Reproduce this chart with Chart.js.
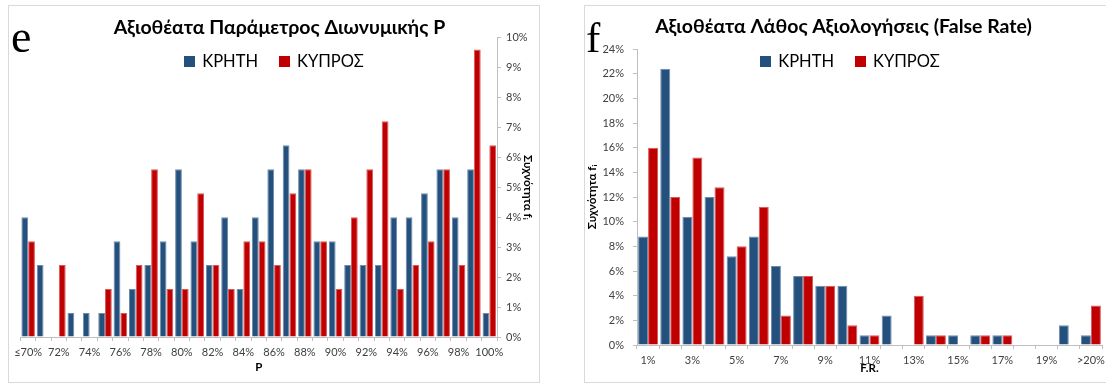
<!DOCTYPE html>
<html>
<head>
<meta charset="utf-8">
<script src="https://cdn.jsdelivr.net/npm/chart.js@4.4.0/dist/chart.umd.min.js"></script>
<style>
  html, body { margin: 0; padding: 0; background: #fff; width: 1106px; height: 383px; overflow: hidden; }
  .panel { position: absolute; top: 5px; width: 532px; height: 378px; box-sizing: border-box; border: 1px solid #d9d9d9; background: #fff; }
  #panelE { left: 8px; }
  #panelF { left: 584px; }
  .panel canvas { position: absolute; left: 0; top: 0; }
  .tag { position: absolute; font-family: "Liberation Serif", "DejaVu Serif", serif; line-height: 1; color: #000; }
  .legend { position: absolute; left: 0; top: 45px; width: 100%; text-align: center; white-space: nowrap;
            font-family: Lato, "Open Sans", sans-serif; font-size: 16.5px; line-height: 20px; color: #000; }
  .legend .item { display: inline-block; }
  .legend i { display: inline-block; width: 11px; height: 11px; margin-right: 7px; vertical-align: baseline; }
</style>
</head>
<body>
<div class="panel" id="panelE">
  <canvas id="chartE" width="530" height="376"></canvas>
  <div class="legend" id="legendE"></div>
</div>
<div class="panel" id="panelF">
  <canvas id="chartF" width="530" height="376"></canvas>
  <div class="legend" id="legendF"></div>
</div>
<div class="tag" style="left:11px;top:14px;font-size:46px;">e</div>
<div class="tag" style="left:586px;top:16px;font-size:43px;">f</div>

<script>
// Series names
const CRETE = 'ΚΡΗΤΗ';
const CYPRUS = 'ΚΥΠΡΟΣ';

// Panel e: binomial parameter P, relative frequency in %
const pCategories = ['≤70%', '71%', '72%', '73%', '74%', '75%', '76%', '77%', '78%', '79%', '80%',
  '81%', '82%', '83%', '84%', '85%', '86%', '87%', '88%', '89%', '90%',
  '91%', '92%', '93%', '94%', '95%', '96%', '97%', '98%', '99%', '100%'];
const pCrete  = [4.0, 2.4, 0, 0.8, 0.8, 0.8, 3.2, 1.6, 2.4, 3.2, 5.6, 3.2, 2.4, 4.0, 1.6, 4.0,
  5.6, 6.4, 5.6, 3.2, 3.2, 2.4, 2.4, 2.4, 4.0, 4.0, 4.8, 5.6, 4.0, 5.6, 0.8];
const pCyprus = [3.2, 0, 2.4, 0, 0, 1.6, 0.8, 2.4, 5.6, 1.6, 1.6, 4.8, 2.4, 1.6, 3.2, 3.2,
  2.4, 4.8, 5.6, 3.2, 1.6, 4.0, 5.6, 7.2, 1.6, 2.4, 3.2, 5.6, 2.4, 9.6, 6.4];

// Panel f: false rate, relative frequency in %
const frCategories = ['1%', '2%', '3%', '4%', '5%', '6%', '7%', '8%', '9%', '10%',
  '11%', '12%', '13%', '14%', '15%', '16%', '17%', '18%', '19%', '20%', '>20%'];
const frCrete  = [8.8, 22.4, 10.4, 12.0, 7.2, 8.8, 6.4, 5.6, 4.8, 4.8, 0.8, 2.4, 0, 0.8, 0.8, 0.8, 0.8, 0, 0, 1.6, 0.8];
const frCyprus = [16.0, 12.0, 15.2, 12.8, 8.0, 11.2, 2.4, 5.6, 4.8, 1.6, 0.8, 0, 4.0, 0.8, 0, 0.8, 0.8, 0, 0, 0, 3.2];

const BLUE = '#23507c', BLUE_EDGE = '#6f8cab';
const RED = '#c00000', RED_EDGE = '#d65a5a';
const AXIS = '#bfbfbf';
const TICK = '#404040';
const FONT = 'Lato, "Open Sans", "DejaVu Sans", sans-serif';

function buildChart(canvasId, legendId, c) {
  const chart = new Chart(document.getElementById(canvasId), {
    type: 'bar',
    data: {
      labels: c.labels,
      datasets: [
        { label: CRETE, data: c.crete, backgroundColor: BLUE, borderColor: BLUE_EDGE, borderWidth: 1 },
        { label: CYPRUS, data: c.cyprus, backgroundColor: RED, borderColor: RED_EDGE, borderWidth: 1 }
      ]
    },
    options: {
      responsive: false,
      animation: false,
      layout: { padding: c.padding },
      datasets: { bar: { categoryPercentage: c.catPct, barPercentage: 1 } },
      plugins: {
        legend: { display: false },
        tooltip: { enabled: false },
        title: {
          display: true, text: c.title, color: '#000',
          font: { family: FONT, size: 19.5, weight: 'bold', lineHeight: 1 },
          padding: c.titlePad
        }
      },
      scales: {
        x: {
          offset: true,
          grid: { display: true, drawOnChartArea: false, drawTicks: true, tickLength: 4, color: AXIS, offset: true },
          border: { display: true, color: AXIS },
          ticks: {
            autoSkip: false, maxRotation: 0, minRotation: 0, padding: 5, color: TICK,
            font: { family: FONT, size: 11 },
            callback: (v, i) => (i % 2 === 0 ? c.labels[i] : '')
          },
          title: {
            display: true, text: c.xTitle, color: '#000',
            font: { family: FONT, size: 11.5, weight: 'bold' },
            padding: { top: 0, bottom: c.xTitlePad }
          },
          afterFit: s => { s.height = c.xHeight; }
        },
        y: {
          position: c.yPos,
          min: 0, max: c.yMax,
          grid: { display: true, drawOnChartArea: false, drawTicks: true, tickLength: 4, color: AXIS },
          border: { display: true, color: AXIS },
          ticks: {
            stepSize: c.yStep, padding: c.yTickPad, color: TICK,
            font: { family: FONT, size: 11 },
            callback: v => v + '%'
          },
          title: {
            display: true, text: 'Συχνότητα fᵢ', color: '#000',
            font: { family: FONT, size: 11.5, weight: 'bold' },
            padding: { top: c.yTitlePad, bottom: 0 }
          },
          afterFit: s => { s.width = c.yWidth; }
        }
      }
    }
  });

  // HTML legend built from the chart's own legend items
  const box = document.getElementById(legendId);
  Chart.defaults.plugins.legend.labels.generateLabels(chart).forEach((item, k) => {
    const span = document.createElement('span');
    span.className = 'item';
    if (k > 0) span.style.marginLeft = '21px';
    const sw = document.createElement('i');
    sw.style.background = item.fillStyle;
    span.appendChild(sw);
    span.appendChild(document.createTextNode(item.text));
    box.appendChild(span);
  });
  return chart;
}

buildChart('chartE', 'legendE', {
  labels: pCategories, crete: pCrete, cyprus: pCyprus,
  title: 'Αξιοθέατα Παράμετρος Διωνυμικής P',
  titlePad: { top: 12, bottom: 0 },
  padding: { left: 11, right: 0, top: 0, bottom: 0 },
  catPct: 0.88,
  xTitle: 'P', xTitlePad: 8, xHeight: 45,
  yPos: 'right', yMax: 10, yStep: 1, yTickPad: 5, yTitlePad: 4, yWidth: 42
});

buildChart('chartF', 'legendF', {
  labels: frCategories, crete: frCrete, cyprus: frCyprus,
  title: 'Αξιοθέατα Λάθος Αξιολογήσεις (False Rate)',
  titlePad: { top: 11, bottom: 12.5 },
  padding: { left: 0, right: 13, top: 0, bottom: 0 },
  catPct: 0.9,
  xTitle: 'F.R.', xTitlePad: 7, xHeight: 37,
  yPos: 'left', yMax: 24, yStep: 2, yTickPad: 9, yTitlePad: 0, yWidth: 52
});
</script>
</body>
</html>
